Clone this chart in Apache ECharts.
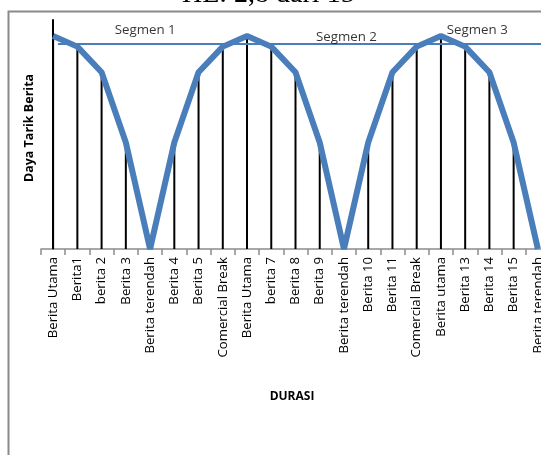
<!DOCTYPE html>
<html>
<head>
<meta charset="utf-8">
<script src="https://cdn.jsdelivr.net/npm/echarts@6/dist/echarts.min.js"></script>
<style>
html,body{margin:0;padding:0;background:#fff;overflow:hidden;width:541px;height:455px;}
#c{width:550px;height:455px;}
</style>
</head>
<body>
<div id="c"></div>
<script>
const categories = ["Berita Utama","Berita1","berita 2","Berita 3","Berita terendah","Berita 4","Berita 5","Comercial Break","Berita Utama","berita 7","Berita 8","Berita 9","Berita terendah","Berita 10","Berita 11","Comercial Break","Berita utama","Berita 13","Berita 14","Berita 15","Berita terendah"];
const dayaTarik = [10,9.5,8.3,5,0,5,8.3,9.5,10,9.5,8.3,5,0,5,8.3,9.5,10,9.5,8.3,5,0];
const segmenLine = [[0.2,9.62],[20.6,9.62]];
const segmenLabels = [["Segmen 1",3.8,10.28],["Segmen 2",12.1,9.95],["Segmen 3",17.5,10.28]];
const titleText = "HE: 2,8 dari 15";
const yName = "Daya Tarik Berita";
const xName = "DURASI";

const chart = echarts.init(document.getElementById('c'));
const blue = '#4a7ebb';
chart.setOption({
  animation:false,
  grid:{left:41,right:0,top:20,bottom:206},
  xAxis:[{
    type:'category',data:categories,boundaryGap:true,
    axisLine:{lineStyle:{color:'#8c8c8c',width:1.5}},
    axisTick:{show:true,length:6,lineStyle:{color:'#8c8c8c',width:1.5}},
    axisLabel:{rotate:90,interval:0,margin:8,color:'#000',fontFamily:'Open Sans',fontSize:13.2}
  },{
    type:'value',min:-0.5,max:20.5,show:false
  }],
  yAxis:{
    type:'value',min:0,max:10.75,
    axisLine:{show:true,lineStyle:{color:'#000',width:2}},
    axisTick:{show:false},axisLabel:{show:false},splitLine:{show:false}
  },
  series:[{
    type:'bar',data:dayaTarik,barWidth:2,itemStyle:{color:'#000'},z:1,silent:true
  },{
    type:'line',data:dayaTarik,symbol:'none',lineStyle:{color:blue,width:6},z:3
  },{
    type:'line',xAxisIndex:1,data:segmenLine,symbol:'none',lineStyle:{color:blue,width:2},z:2
  },{
    type:'scatter',xAxisIndex:1,symbolSize:0,
    data:segmenLabels.map(d=>({name:d[0],value:[d[1],d[2]]})),
    label:{show:true,position:'inside',formatter:p=>p.name,color:'#000',fontFamily:'Open Sans',fontSize:13.3}
  }],
  graphic:[
    {type:'rect',shape:{x:8.5,y:11.5,width:700,height:600},style:{fill:null,stroke:'#8a8a8a',lineWidth:2},z:-1},
    {type:'text',left:182,top:-19,style:{text:titleText,font:'28px "Liberation Serif"',fill:'#000'}},
    {type:'text',x:29,y:128,rotation:Math.PI/2,style:{text:yName,font:'bold 12.5px "Open Sans"',fill:'#000',align:'center',verticalAlign:'middle'}},
    {type:'text',x:292,y:397,style:{text:xName,font:'bold 12px "Open Sans"',fill:'#000',align:'center',verticalAlign:'middle'}}
  ]
});
</script>
</body>
</html>
